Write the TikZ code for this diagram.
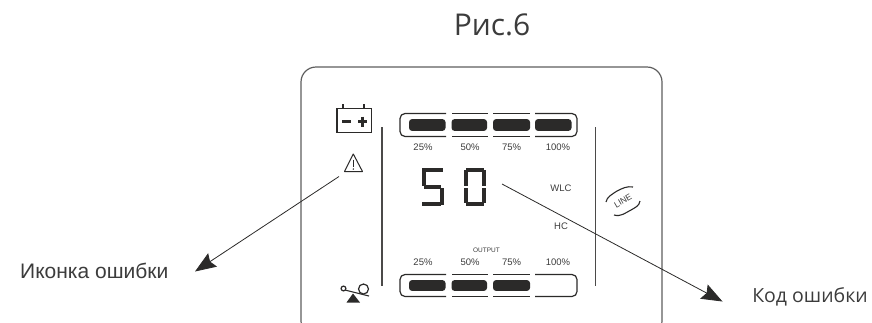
\documentclass[tikz,border=0pt]{standalone}
\usepackage{fontspec}
\setmainfont{Liberation Sans}
\newfontfamily\opensans{Open Sans}
\usepackage{xcolor}
\usetikzlibrary{arrows.meta,positioning,calc}
\definecolor{ink}{HTML}{2B2A29}
\definecolor{frame}{HTML}{5E5E5E}
\definecolor{caption}{HTML}{3C3C3C}
\tikzset{
  callout/.style={-{Stealth[length=21pt,width=16pt,inset=3pt]},line width=0.8pt,color=ink},
  outline/.style={draw=ink,line width=1.2pt},
  cell/.style={fill=ink,rounded corners=3pt},
  pct/.style={font=\fontsize{9.5}{10}\selectfont,text=caption,inner sep=0pt},
  small/.style={font=\fontsize{9.5}{10}\selectfont,text=caption,inner sep=0pt},
  seg/.style={line width=4pt,color=ink},
  divider/.style={line width=1.2pt,color=ink!85},
}
\newcommand{\levelbar}[3]{%
  \draw[outline,rounded corners=5pt] (446,#1) -- (400,#1) -- (400,#2) -- (446,#2);
  \foreach \xa/\xb in {452/488,493/530}{
    \draw[outline] (\xa,#1) -- (\xb,#1);
    \draw[outline] (\xa,#2) -- (\xb,#2);
  }
  \draw[outline,rounded corners=5pt] (535,#1) -- (577,#1) -- (577,#2) -- (535,#2);
  \foreach \xa/\xb in {#3}{
    \fill[cell] (\xa,#1+5.6) rectangle (\xb,#2-5.6);
  }
}
\begin{document}
\begin{tikzpicture}[x=1pt,y=-1pt]
  \useasboundingbox (0,0) rectangle (872,322);

  % panel
  \begin{scope}
    \clip (0,0) rectangle (872,322);
    \draw[draw=frame,line width=1.2pt,rounded corners=15pt] (301,67) rectangle (662,336);
  \end{scope}

  % bars
  \levelbar{113.5}{136.5}{409/445.5,451.5/487,493/530,535/571.5}
  \levelbar{274.5}{296.5}{409/445.5,451.5/487,493/530}
  \foreach \px/\txt in {423/25\%,470/50\%,511.5/75\%,558/100\%}{
    \node[pct] at (\px,147) {\txt};
    \node[pct] at (\px,262) {\txt};
  }
  \node[pct,font=\fontsize{6.5}{7}\selectfont] at (486.5,250.5) {OUTPUT};
  \node[small] at (561,188.5) {WLC};
  \node[small] at (561,226) {HC};

  \draw[divider] (382,127) -- (382,286);
  \draw[divider] (595.5,127) -- (595.5,286);

  % battery
  \draw[outline,line width=1.4pt] (337,108.5) rectangle (371.5,132.5);
  \draw[ink,line width=2pt] (343,104) -- (343,108.5) (364,104) -- (364,108.5);
  \draw[ink,line width=2.4pt] (342,121.5) -- (351,121.5) (358,121.5) -- (367,121.5)
    (362.5,116.5) -- (362.5,126.5);

  % warning sign
  \draw[ink,line width=1pt,line join=round] (353.3,154) -- (362.5,171.5) -- (344.5,171.5) -- cycle;
  \draw[ink,line width=1.2pt] (353.3,159.5) -- (353.3,166.5);
  \fill[ink] (353.3,169) circle[radius=0.8pt];

  % seesaw
  \draw[ink,line width=1.1pt] (341,289) -- (369,296);
  \draw[outline,fill=white] (343.5,288.5) circle[radius=2.4pt];
  \draw[outline,fill=white] (363.5,289) circle[radius=5pt];
  \fill[ink] (353,293.5) -- (360,302.5) -- (346.5,302.5) -- cycle;

  % digit 5
  \draw[seg] (423,170) -- (443,170);
  \draw[seg] (423.7,168) -- (423.7,186);
  \draw[seg] (424,187) -- (441,187);
  \draw[seg] (442,188) -- (442,205);
  \draw[seg] (422,204) -- (441,204);
  % digit 0
  \draw[seg] (466,170) -- (484,170);
  \draw[seg] (466,170) -- (466,185.5) (466,188) -- (466,203);
  \draw[seg] (484,170) -- (484,185.5) (484,188) -- (484,203);
  \draw[seg] (466,204) -- (484,204);

  % line badge
  \node[inner sep=0pt,rotate=30,font=\fontsize{8.5}{9}\selectfont,text=caption] (linebadge) at (623,201) {LINE};
  \draw[ink,line width=1.1pt] (606,202) .. controls (607,197) and (611,195) .. (617,191) .. controls (623,188) and (627,186) .. (633,187);
  \draw[ink,line width=1.1pt] (614,215) .. controls (621,217) and (625,213) .. (631,210) .. controls (636,207) and (639,206) .. (640,201);

  % captions
  \node[font=\opensans\fontsize{30}{33}\selectfont,text=caption,inner sep=0pt] (title) at (492,25) {Рис.6};
  \node[font=\fontsize{21}{24}\selectfont,text=caption,inner sep=0pt,anchor=west] (iconlabel) at (20,271) {Иконка ошибки};
  \node[font=\opensans\fontsize{19.5}{22}\selectfont,text=caption,inner sep=0pt,anchor=east] (codelabel) at (868,297) {Код ошибки};

  % callouts
  \coordinate (iconstart) at (339,176.5);
  \coordinate (icontip) at (195,271.5);
  \coordinate (codestart) at (502,184);
  \coordinate (codetip) at (722.5,301.5);
  \draw[callout] (iconstart) -- (icontip);
  \draw[callout] (codestart) -- (codetip);
\end{tikzpicture}
\end{document}
